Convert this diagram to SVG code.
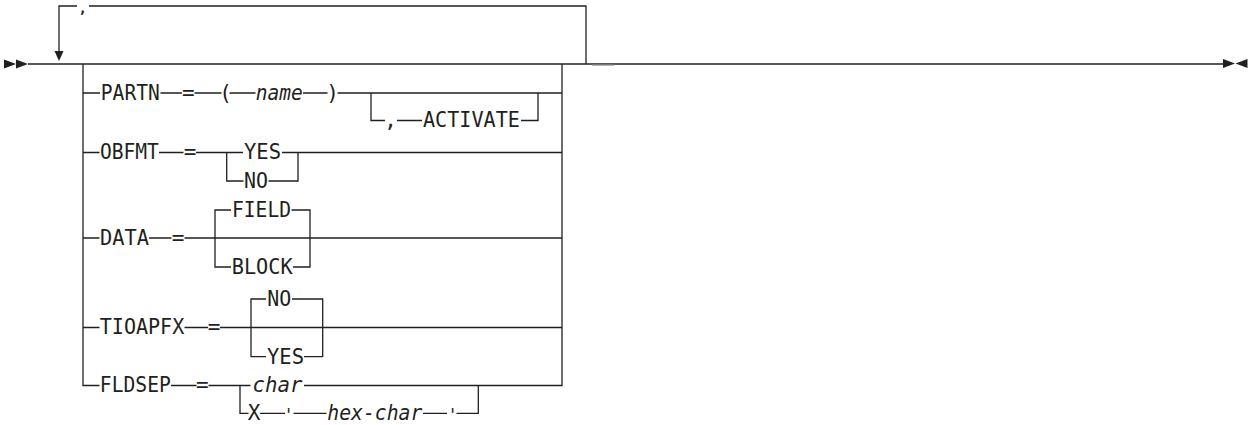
<svg xmlns="http://www.w3.org/2000/svg" width="1252" height="425" viewBox="0 0 1252 425">
<style>
  .ln { fill: none; stroke: #231f20; stroke-width: 1.3; }
  .ah { fill: #231f20; stroke: none; }
  text { font-family: "DejaVu Sans Mono", "Liberation Mono", monospace; font-size: 21px; fill: #231f20; text-anchor: middle; }
  .var { font-style: italic; }
  .tick { font-size: 17px; }
</style>
<rect width="1252" height="425" fill="#ffffff"/>
<g id="connectors">
  <path class="ln" d="M28 64 H1223"/>
  <path class="ln" d="M586 64 V6 H89 M77 6 H59 V51"/>
  <path class="ln" d="M592 65 H614" style="stroke:#8a8a8a"/>
  <path class="ln" d="M83 64 V385.5 H99.5 M562 64 V385.5 H304"/>
  <path class="ln" d="M83 93 H100 M160.5 93 H182 M194.5 93 H221.5 M229.5 93 H255.5 M303 93 H327.5 M337.5 93 H562"/>
  <path class="ln" d="M371 93 V120.5 H385 M397 120.5 H422 M521 120.5 H538 V93"/>
  <path class="ln" d="M83 152.5 H99.5 M159 152.5 H183.5 M196 152.5 H243 M282 152.5 H562"/>
  <path class="ln" d="M226.7 152.5 V181 H243.5 M268.5 181 H298 V152.5"/>
  <path class="ln" d="M83 238 H99.5 M149 238 H171.5 M184.5 238 H562"/>
  <path class="ln" d="M231 210 H215 V267 H231 M291.5 210 H310 V267 H293"/>
  <path class="ln" d="M83 327.5 H99.5 M184.5 327.5 H208 M220 327.5 H562"/>
  <path class="ln" d="M266 299 H251 V356.7 H266 M292 299 H322.7 V356.7 H304"/>
  <path class="ln" d="M171 385.5 H196.5 M208.5 385.5 H250.5"/>
  <path class="ln" d="M240 385.5 V413.3 H248.5 M260 413.3 H285 M293.5 413.3 H326.5 M423 413.3 H447 M456.5 413.3 H478.3 V385.5"/>
</g>
<g id="start">
  <polygon class="ah" points="4,59.5 16,64 4,68.5"/>
  <polygon class="ah" points="16,59.5 28,64 16,68.5"/>
</g>
<g id="end">
  <polygon class="ah" points="1223,59 1235,63.5 1223,68"/>
  <polygon class="ah" points="1247.5,59 1235.5,63.5 1247.5,68"/>
</g>
<g id="repeat">
  <polygon class="ah" points="54.5,51 63.5,51 59,61"/>
  <text x="82.7" y="13.2" style="font-size:14px;font-weight:bold">,</text>
</g>
<g id="partn">
  <text x="130.3" y="100" textLength="59" lengthAdjust="spacingAndGlyphs">PARTN</text>
  <text x="188.3" y="100">=</text>
  <text x="225.7" y="100">(</text>
  <text class="var" x="279.2" y="100" textLength="47" lengthAdjust="spacingAndGlyphs">name</text>
  <text x="332.7" y="100">)</text>
</g>
<g id="activate">
  <text x="390.5" y="127.3">,</text>
  <text x="471.5" y="127.3" textLength="97" lengthAdjust="spacingAndGlyphs">ACTIVATE</text>
</g>
<g id="obfmt">
  <text x="129.4" y="159.3" textLength="59" lengthAdjust="spacingAndGlyphs">OBFMT</text>
  <text x="190" y="159.3">=</text>
  <text x="262.5" y="159.3" textLength="37" lengthAdjust="spacingAndGlyphs">YES</text>
  <text x="256" y="187.8" textLength="24" lengthAdjust="spacingAndGlyphs">NO</text>
</g>
<g id="data">
  <text x="124.4" y="244.8" textLength="49" lengthAdjust="spacingAndGlyphs">DATA</text>
  <text x="178" y="244.8">=</text>
  <text x="261.5" y="216.8" textLength="59" lengthAdjust="spacingAndGlyphs">FIELD</text>
  <text x="262.2" y="273.8" textLength="61" lengthAdjust="spacingAndGlyphs">BLOCK</text>
</g>
<g id="tioapfx">
  <text x="142" y="334.3" textLength="84.5" lengthAdjust="spacingAndGlyphs">TIOAPFX</text>
  <text x="214" y="334.3">=</text>
  <text x="279.3" y="305.8" textLength="24" lengthAdjust="spacingAndGlyphs">NO</text>
  <text x="285.5" y="363.5" textLength="37" lengthAdjust="spacingAndGlyphs">YES</text>
</g>
<g id="fldsep">
  <text x="135.3" y="392.3" textLength="71" lengthAdjust="spacingAndGlyphs">FLDSEP</text>
  <text x="202.3" y="392.3">=</text>
  <text class="var" x="277.5" y="392.3" textLength="50" lengthAdjust="spacingAndGlyphs">char</text>
  <text x="254" y="420">X</text>
  <text class="tick" x="288.7" y="420.8">'</text>
  <text class="var" x="374.8" y="420" textLength="95" lengthAdjust="spacingAndGlyphs">hex-char</text>
  <text class="tick" x="452.7" y="420.8">'</text>
</g>
</svg>
